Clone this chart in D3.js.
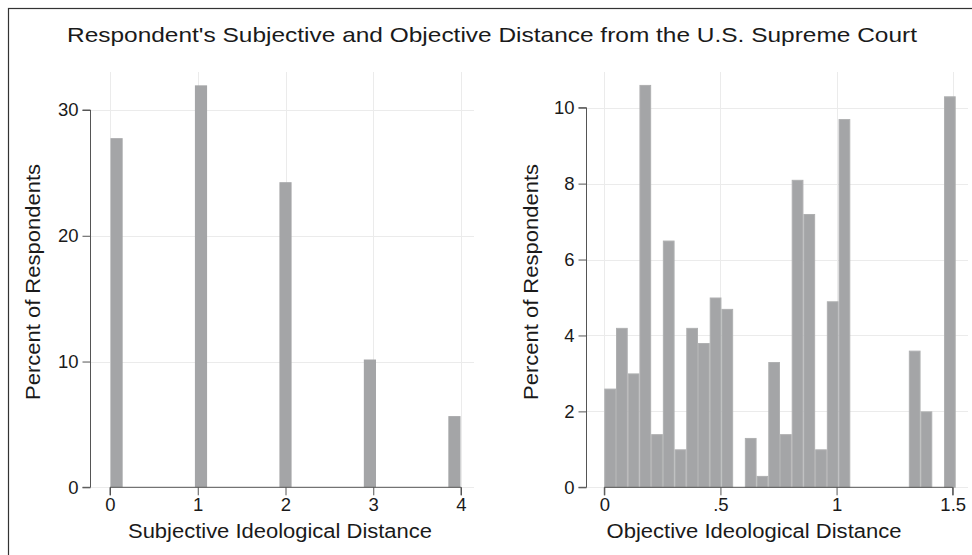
<!DOCTYPE html>
<html>
<head>
<meta charset="utf-8">
<script src="https://cdn.jsdelivr.net/npm/d3@7"></script>
<style>
  html, body { margin: 0; padding: 0; background: #fff; }
  svg { display: block; }
  text { font-family: "Liberation Sans", Arial, sans-serif; fill: #1a1a1a; }
</style>
</head>
<body>
<svg id="chart" width="972" height="555"></svg>
<script>
// ---------- data ----------
const title = "Respondent's Subjective and Objective Distance from the U.S. Supreme Court";

// Left panel: subjective distance (bin left edges and percent)
const subjBinStart = [0, 0.962, 1.925, 2.887, 3.85];
const subjBinWidth = 0.15;
const subjPercent = [27.8, 32.0, 24.3, 10.2, 5.7];
const subjXTicks = [0, 1, 2, 3, 4];
const subjXTickLabels = ["0", "1", "2", "3", "4"];
const subjYTicks = [0, 10, 20, 30];
const subjXTitle = "Subjective Ideological Distance";

// Right panel: objective distance, 30 bins of width 0.0504 starting at 0
const objBinWidth = 0.05043;
const objPercent = [2.6, 4.2, 3.0, 10.6, 1.4, 6.5, 1.0, 4.2, 3.8, 5.0,
                    4.7, 0, 1.3, 0.3, 3.3, 1.4, 8.1, 7.2, 1.0, 4.9,
                    9.7, 0, 0, 0, 0, 0, 3.6, 2.0, 0, 10.3];
const objXTicks = [0, 0.5, 1, 1.5];
const objXTickLabels = ["0", ".5", "1", "1.5"];
const objYTicks = [0, 2, 4, 6, 8, 10];
const objXTitle = "Objective Ideological Distance";

const yTitle = "Percent of Respondents";

// ---------- drawing ----------
const svg = d3.select("#chart");
const barFill = "#a4a5a7";
const barStroke = "#afb0b1";
const gridColor = "#ebebeb";
const axisColor = "#555";
const tickFont = 18.5;

// outer frame
svg.append("rect").attr("x", 8.5).attr("y", 8.5).attr("width", 1000).attr("height", 600)
  .attr("fill", "none").attr("stroke", "#333").attr("stroke-width", 1.2);

svg.append("text").attr("x", 492).attr("y", 42).attr("text-anchor", "middle")
  .attr("font-size", 21).attr("textLength", 850).attr("lengthAdjust", "spacingAndGlyphs")
  .text(title);

function panel(cfg) {
  const g = svg.append("g");
  const x = d3.scaleLinear().domain(cfg.xDomain).range(cfg.xRange);
  const y = d3.scaleLinear().domain(cfg.yDomain).range(cfg.yRange);

  // grid
  g.append("g").selectAll("line").data(cfg.yTicks).join("line")
    .attr("x1", cfg.plotLeft).attr("x2", cfg.plotRight)
    .attr("y1", d => Math.round(y(d)) + 0.5).attr("y2", d => Math.round(y(d)) + 0.5)
    .attr("stroke", gridColor).attr("stroke-width", 1);
  g.append("g").selectAll("line").data(cfg.xTicks).join("line")
    .attr("x1", d => Math.round(x(d)) + 0.5).attr("x2", d => Math.round(x(d)) + 0.5)
    .attr("y1", cfg.plotTop).attr("y2", y(0))
    .attr("stroke", gridColor).attr("stroke-width", 1);

  // bars
  g.append("g").selectAll("rect").data(cfg.bars.filter(b => b.v > 0)).join("rect")
    .attr("x", d => x(d.x0) + 0.5)
    .attr("width", d => x(d.x1) - x(d.x0) - 1)
    .attr("y", d => y(d.v) + 0.5)
    .attr("height", d => y(0) - y(d.v) - 0.5)
    .attr("fill", barFill).attr("stroke", cfg.barStroke ? barStroke : "none").attr("stroke-width", 1);

  // y axis
  const yAxis = d3.axisLeft(y).tickValues(cfg.yTicks).tickSize(8).tickPadding(4).tickFormat(d3.format("d"));
  const ya = g.append("g").attr("transform", `translate(${cfg.axisX},0)`).call(yAxis);
  ya.select(".domain").attr("stroke", axisColor).attr("d", `M-8,${y(cfg.yTicks[cfg.yTicks.length-1])}H0V${y(0)}H-8`);
  ya.selectAll(".tick line").attr("stroke", axisColor);
  ya.selectAll(".tick text").attr("font-size", tickFont).attr("fill", "#1a1a1a")
    .attr("font-family", '"Liberation Sans", Arial, sans-serif');

  // x axis
  const xAxis = d3.axisBottom(x).tickValues(cfg.xTicks).tickSize(8).tickPadding(3)
    .tickFormat((d, i) => cfg.xTickLabels[i]);
  const xa = g.append("g").attr("transform", `translate(0,${y(0)})`).call(xAxis);
  xa.select(".domain").attr("stroke", axisColor).attr("d", `M${x(cfg.xTicks[0])},8V0H${x(cfg.xTicks[cfg.xTicks.length-1])}V8`);
  xa.selectAll(".tick line").attr("stroke", axisColor);
  xa.selectAll(".tick text").attr("font-size", tickFont).attr("fill", "#1a1a1a")
    .attr("font-family", '"Liberation Sans", Arial, sans-serif');

  // titles
  g.append("text").attr("x", cfg.xTitleX).attr("y", 538).attr("text-anchor", "middle")
    .attr("font-size", 20).attr("textLength", cfg.xTitleLen).attr("lengthAdjust", "spacingAndGlyphs")
    .text(cfg.xTitle);
  g.append("text").attr("transform", `translate(${cfg.yTitleX},282) rotate(-90)`)
    .attr("text-anchor", "middle").attr("font-size", 20)
    .attr("textLength", 236).attr("lengthAdjust", "spacingAndGlyphs")
    .text(yTitle);
}

panel({
  xDomain: [0, 4], xRange: [110, 461],
  yDomain: [0, 30], yRange: [487.3, 110],
  xTicks: subjXTicks, xTickLabels: subjXTickLabels, yTicks: subjYTicks,
  plotLeft: 90, plotRight: 474, plotTop: 72, axisX: 90.5,
  bars: subjBinStart.map((s, i) => ({x0: s, x1: s + subjBinWidth, v: subjPercent[i]})),
  barStroke: false,
  xTitle: subjXTitle, xTitleX: 280, xTitleLen: 304, yTitleX: 40
});

panel({
  xDomain: [0, 1.5], xRange: [604.3, 952.7],
  yDomain: [0, 10], yRange: [487.3, 107.7],
  xTicks: objXTicks, xTickLabels: objXTickLabels, yTicks: objYTicks,
  plotLeft: 586, plotRight: 968, plotTop: 72, axisX: 586.5,
  bars: objPercent.map((v, i) => ({x0: i * objBinWidth, x1: (i + 1) * objBinWidth, v: v})),
  barStroke: true,
  xTitle: objXTitle, xTitleX: 754, xTitleLen: 295, yTitleX: 538
});
</script>
</body>
</html>
